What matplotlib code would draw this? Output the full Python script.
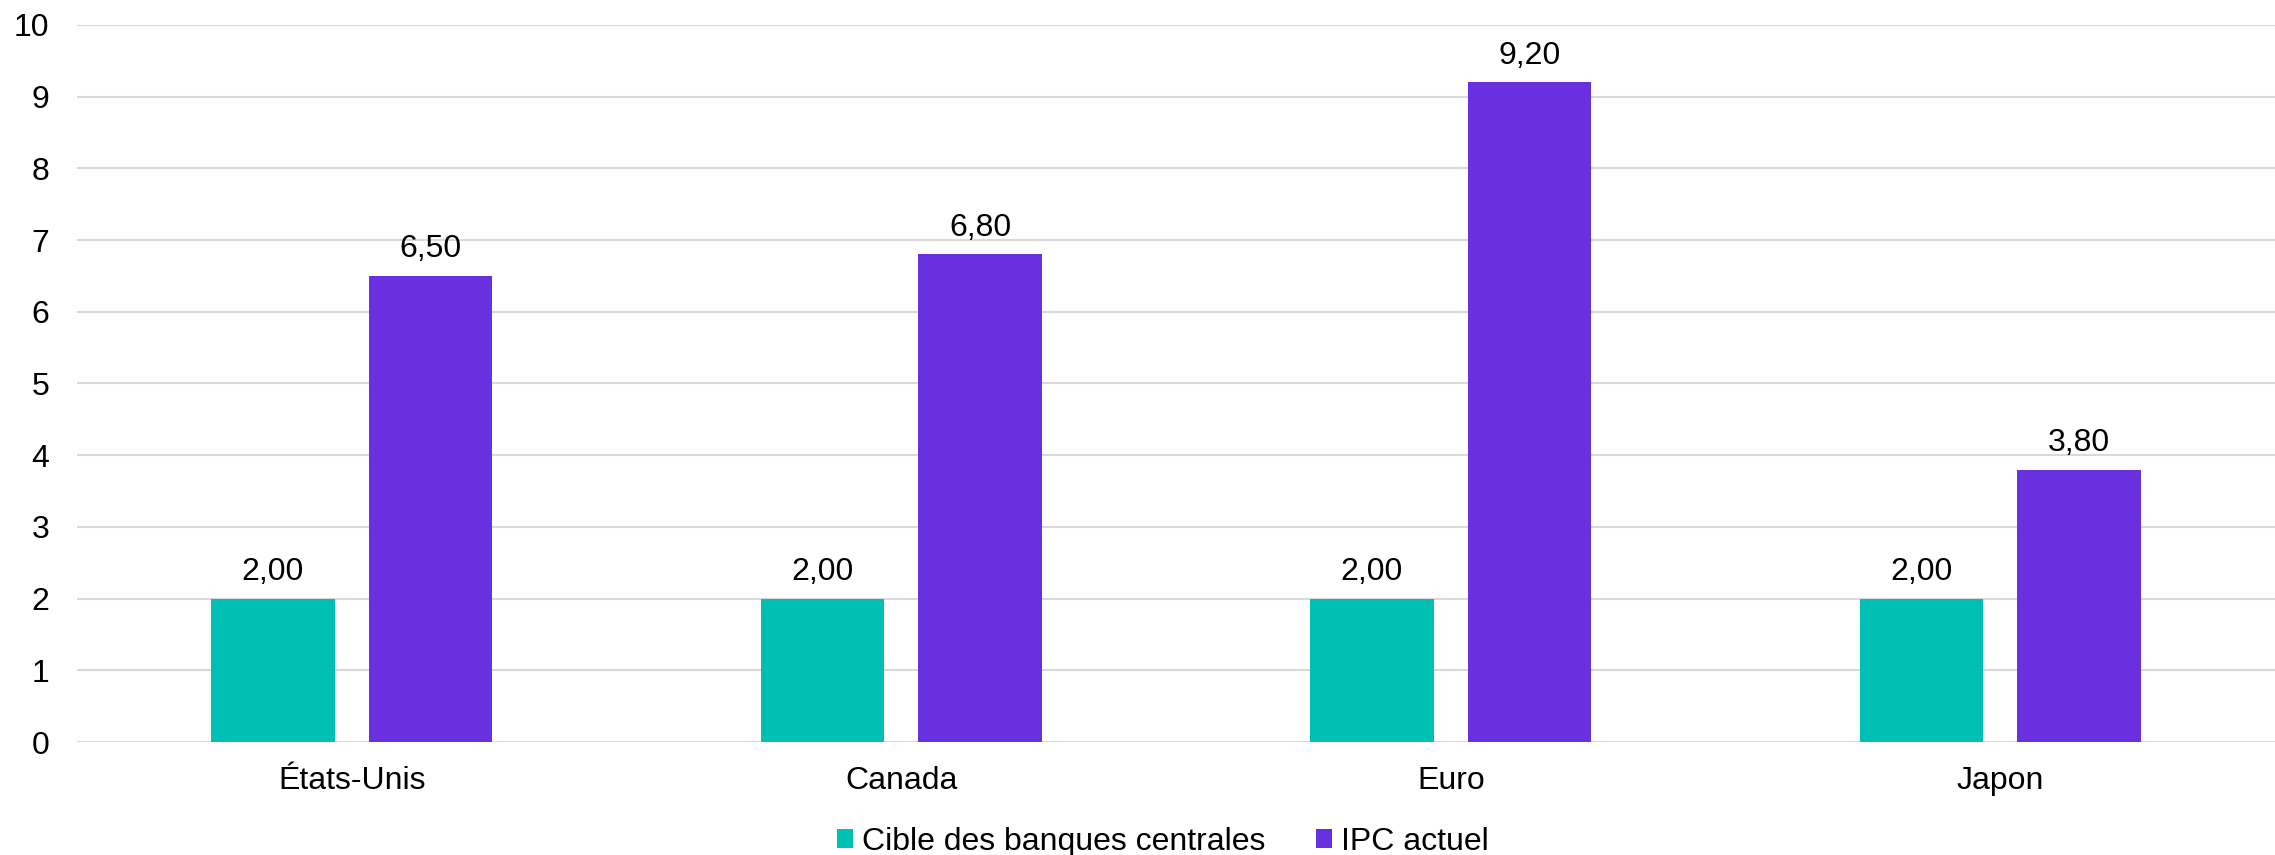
import matplotlib.pyplot as plt
import numpy as np

plt.rcParams["font.family"] = ["Liberation Sans", "DejaVu Sans"]

categories = ["États-Unis", "Canada", "Euro", "Japon"]
cible = [2.00, 2.00, 2.00, 2.00]
ipc = [6.50, 6.80, 9.20, 3.80]
series_names = ["Cible des banques centrales", "IPC actuel"]
yticks = list(range(0, 11))

TEAL = "#00BFB3"
PURPLE = "#6930E0"
FS = 23

fig = plt.figure(figsize=(22.75, 8.55), dpi=100)
ax = fig.add_axes([77 / 2275, 1 - 742 / 855, 1 - 77 / 2275, (742 - 25) / 855])

x = np.arange(len(categories))
w = 0.225
off = w / 2 + 0.031
b1 = ax.bar(x - off, cible, width=w, color=TEAL, label=series_names[0], zorder=3)
b2 = ax.bar(x + off, ipc, width=w, color=PURPLE, label=series_names[1], zorder=3)

# value labels, French decimal comma
for bars in (b1, b2):
    for rect in bars:
        h = rect.get_height()
        ax.annotate(f"{h:.2f}".replace(".", ","),
                    (rect.get_x() + rect.get_width() / 2, h),
                    xytext=(0, 13.5), textcoords="offset points",
                    ha="center", va="baseline", fontsize=FS)

ax.set_xlim(-0.5, len(categories) - 0.5)
ax.set_ylim(0, 10)
ax.set_yticks(yticks)
ax.set_xticks(x)
ax.set_xticklabels(categories)
ax.tick_params(axis="both", length=0, labelsize=FS)
ax.tick_params(axis="y", pad=20)
ax.tick_params(axis="x", pad=17)
ax.grid(axis="y", color="#D9D9D9", linewidth=1.5, zorder=0)
for s in ax.spines.values():
    s.set_visible(False)

fig.legend(loc="center", bbox_to_anchor=(1163 / 2275, 1 - 842 / 855), ncol=2,
           frameon=False, fontsize=FS, handlelength=0.5, handleheight=0.55,
           handletextpad=0.28, columnspacing=1.6)

fig.savefig("out.png", dpi=100)
